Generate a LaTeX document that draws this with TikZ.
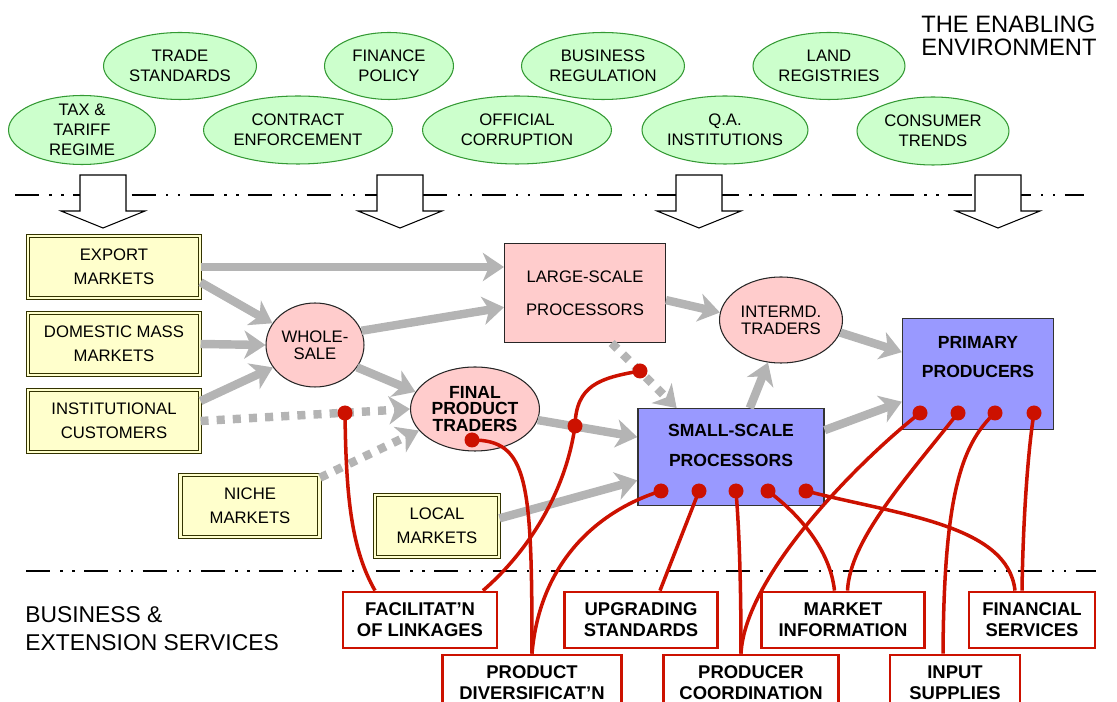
\documentclass[tikz,border=0pt]{standalone}
\usepackage{fontspec}
\setmainfont{Liberation Sans}
\usetikzlibrary{shapes.geometric}
\usetikzlibrary{arrows.meta}

\definecolor{envfill}{HTML}{CCFFCC}
\definecolor{envline}{HTML}{339933}
\definecolor{mktfill}{HTML}{FFFFCC}
\definecolor{mktline}{HTML}{333300}
\definecolor{procfill}{HTML}{FFCCCC}
\definecolor{prodfill}{HTML}{9999FF}
\definecolor{linkred}{HTML}{CC1100}
\definecolor{flowgrey}{HTML}{B4B4B4}

\begin{document}
\begin{tikzpicture}[x=0.02cm, y=-0.02cm,
  env/.style={ellipse, draw=envline, fill=envfill, line width=0.6pt, align=center,
    inner xsep=0pt, inner ysep=-6pt, font=\fontsize{9.5}{11.3}\selectfont},
  mkt/.style={rectangle, draw=mktline, double=mktfill, double distance=1.2pt, line width=0.6pt,
    fill=mktfill, align=center, minimum height=1.23cm, font=\fontsize{9.5}{13.5}\selectfont},
  proc/.style={rectangle, draw=black!85, fill=procfill, line width=0.6pt, align=center,
    font=\fontsize{9.5}{19}\selectfont},
  trader/.style={ellipse, draw=black!85, fill=procfill, line width=0.6pt, align=center,
    inner sep=0pt, font=\fontsize{9.5}{9.5}\selectfont},
  prod/.style={rectangle, draw=black!80, fill=prodfill, line width=0.8pt, align=center,
    inner ysep=0pt, font=\bfseries\fontsize{10}{17}\selectfont},
  svc/.style={rectangle, draw=linkred, fill=white, line width=1.6pt, align=center,
    minimum height=1.12cm, font=\bfseries\fontsize{10.5}{12}\selectfont},
  heading/.style={align=left, inner sep=0pt, anchor=west},
  flow/.style={draw=flowgrey, line width=4.8pt, -{Stealth[length=12pt, width=16pt, inset=3.5pt]}},
  flowdot/.style={flow, dash pattern=on 4.6pt off 4.6pt},
  link/.style={draw=linkred, line width=2pt},
  linkdot/.style={circle, fill=linkred, inner sep=0pt, minimum size=0.3cm},
  sepline/.style={line width=1.3pt, dash pattern=on 13.6pt off 6pt on 1.3pt off 5.5pt on 1.3pt off 5.5pt},
  blockarr/.style={draw=black, fill=white, line width=0.6pt}]

  \useasboundingbox (0,0) rectangle (1117,702);

  \node[heading, font=\fontsize{13.5}{13}\selectfont] (enabling) at (921,36)
    {THE ENABLING\\ENVIRONMENT};
  \node[heading, font=\fontsize{13}{16}\selectfont] (services) at (25,629)
    {BUSINESS \&\\EXTENSION SERVICES};

  \node[env, minimum width=3.06cm, minimum height=1.34cm] (trade) at (180,66) {TRADE\\STANDARDS};
  \node[env, minimum width=2.58cm, minimum height=1.34cm] (finance) at (389,66) {FINANCE\\POLICY};
  \node[env, minimum width=3.26cm, minimum height=1.34cm] (business) at (603,66) {BUSINESS\\REGULATION};
  \node[env, minimum width=3.04cm, minimum height=1.34cm] (land) at (829,66) {LAND\\REGISTRIES};
  \node[env, minimum width=2.94cm, minimum height=1.38cm] (tax) at (82,130) {TAX \&\\TARIFF\\REGIME};
  \node[env, minimum width=3.78cm, minimum height=1.36cm] (contract) at (298,130) {CONTRACT\\ENFORCEMENT};
  \node[env, minimum width=3.78cm, minimum height=1.36cm] (corrupt) at (517,130) {OFFICIAL\\CORRUPTION};
  \node[env, minimum width=3.32cm, minimum height=1.36cm] (qa) at (725,130) {Q.A.\\INSTITUTIONS};
  \node[env, minimum width=3.04cm, minimum height=1.36cm] (consumer) at (933,131) {CONSUMER\\TRENDS};

  \draw[sepline] (15,195) -- (1084,195);
  \draw[sepline] (26,571) -- (1096,571);

  \foreach \x in {103,400,699,998}
    \draw[blockarr] (\x-23,175) -- (\x+23,175) -- (\x+23,211) -- (\x+42,211)
      -- (\x,228) -- (\x-42,211) -- (\x-23,211) -- cycle;

  \node[mkt, minimum width=3.44cm] (export) at (114,267) {EXPORT\\MARKETS};
  \node[mkt, minimum width=3.44cm] (domestic) at (114,344) {DOMESTIC MASS\\MARKETS};
  \node[mkt, minimum width=3.44cm] (inst) at (114,421) {INSTITUTIONAL\\CUSTOMERS};
  \node[mkt, minimum width=2.78cm] (niche) at (250,506) {NICHE\\MARKETS};
  \node[mkt, minimum width=2.48cm] (local) at (437,526) {LOCAL\\MARKETS};

  \node[proc, minimum width=3.22cm, minimum height=1.98cm] (large) at (585,293) {LARGE-SCALE\\PROCESSORS};
  \node[trader, minimum width=1.96cm, minimum height=1.68cm] (whole) at (315,345) {WHOLE-\\SALE};
  \node[trader, minimum width=2.58cm, minimum height=1.68cm, font=\bfseries\fontsize{10}{9.5}\selectfont]
    (fpt) at (475,409) {FINAL\\PRODUCT\\TRADERS};
  \node[trader, minimum width=2.46cm, minimum height=1.72cm] (intermd) at (781,320) {INTERMD.\\TRADERS};

  \node[prod, minimum width=3.72cm] (ssp) at (731,457)
    {\rule{0pt}{15.9pt}SMALL-SCALE\\PROCESSORS\rule[-22pt]{0pt}{22pt}};
  \node[prod, minimum width=3.02cm] (pp) at (978,374)
    {\rule{0pt}{17pt}PRIMARY\\PRODUCERS\rule[-29.5pt]{0pt}{29.5pt}};

  \node[svc, minimum width=3.08cm] (facil) at (420,620) {FACILITAT’N\\OF LINKAGES};
  \node[svc, minimum width=3.06cm] (upgr) at (641,620) {UPGRADING\\STANDARDS};
  \node[svc, minimum width=3.26cm] (market) at (843,620) {MARKET\\INFORMATION};
  \node[svc, minimum width=2.52cm] (finserv) at (1032,620) {FINANCIAL\\SERVICES};
  \node[svc, minimum width=3.58cm] (prodiv) at (532,683) {PRODUCT\\DIVERSIFICAT’N};
  \node[svc, minimum width=3.5cm] (coord) at (751,683) {PRODUCER\\COORDINATION};
  \node[svc, minimum width=2.6cm] (input) at (955,683) {INPUT\\SUPPLIES};

  \draw[flow] (export.east) -- (large.west |- export.east);
  \draw[flow] (export.-10) -- (whole.153);
  \draw[flow] (domestic.east) -- (whole.west);
  \draw[flow] (inst.13) -- (whole.208);
  \draw[flow] (whole.17) -- (large.190);
  \draw[flow] (whole.-28) -- (fpt.164);
  \draw[flowdot] (inst.east) -- (fpt.west);
  \draw[flowdot] (niche.22) -- (fpt.201);
  \draw[flow] (local.7) -- (ssp.194);
  \draw[flow] (fpt.-10) -- (ssp.168);
  \draw[flow] (large.-5) -- (intermd.173);
  \draw[flowdot] (large.-62) -- (ssp.138);
  \draw[flow] (ssp.69) -- (intermd.253);
  \draw[flow] (intermd.-12) -- (pp.164);
  \draw[flow] (ssp.16) -- (pp.200);

  \node[linkdot] (ldA) at (345,413) {};
  \node[linkdot] (ldB) at (575,426) {};
  \node[linkdot] (ldC) at (640,371) {};
  \node[linkdot] (ldD) at (472,440) {};
  \foreach \i/\x in {1/661,2/699,3/736,4/768,5/806}
    \node[linkdot] (ss\i) at (\x,491) {};
  \foreach \i/\x in {1/920,2/958,3/995,4/1034}
    \node[linkdot] (pp\i) at (\x,413) {};

  \draw[link] (ldA.center) .. controls (346,500) and (352,550) .. ([xshift=-0.9cm]facil.north);
  \draw[link] (ldC.center) .. controls (600,378) and (576,385) .. (ldB.center)
    .. controls (566,490) and (530,550) .. ([xshift=1.26cm]facil.north);
  \draw[link] (ldD.center) .. controls (528,440) and (532,480) .. (prodiv.north);
  \draw[link] (ss1.center) .. controls (600,510) and (540,560) .. (prodiv.north);
  \draw[link] (ss2.center) -- ([xshift=0.38cm]upgr.north);
  \draw[link] (ss3.center) .. controls (740,540) and (741,600) .. ([xshift=-0.2cm]coord.north);
  \draw[link] (ss4.center) .. controls (800,515) and (830,550) .. ([xshift=-0.17cm]market.north);
  \draw[link] (ss5.center) .. controls (900,515) and (1008,525) .. ([xshift=-0.34cm]finserv.north);
  \draw[link] (pp1.center) .. controls (860,460) and (745,575) .. ([xshift=-0.2cm]coord.north);
  \draw[link] (pp2.center) .. controls (905,480) and (850,540) .. ([xshift=0.09cm]market.north);
  \draw[link] (pp3.center) .. controls (960,445) and (944,500) .. ([xshift=-0.24cm]input.north);
  \draw[link] (pp4.center) .. controls (1028,450) and (1023,520) .. ([xshift=-0.2cm]finserv.north);
\end{tikzpicture}
\end{document}
